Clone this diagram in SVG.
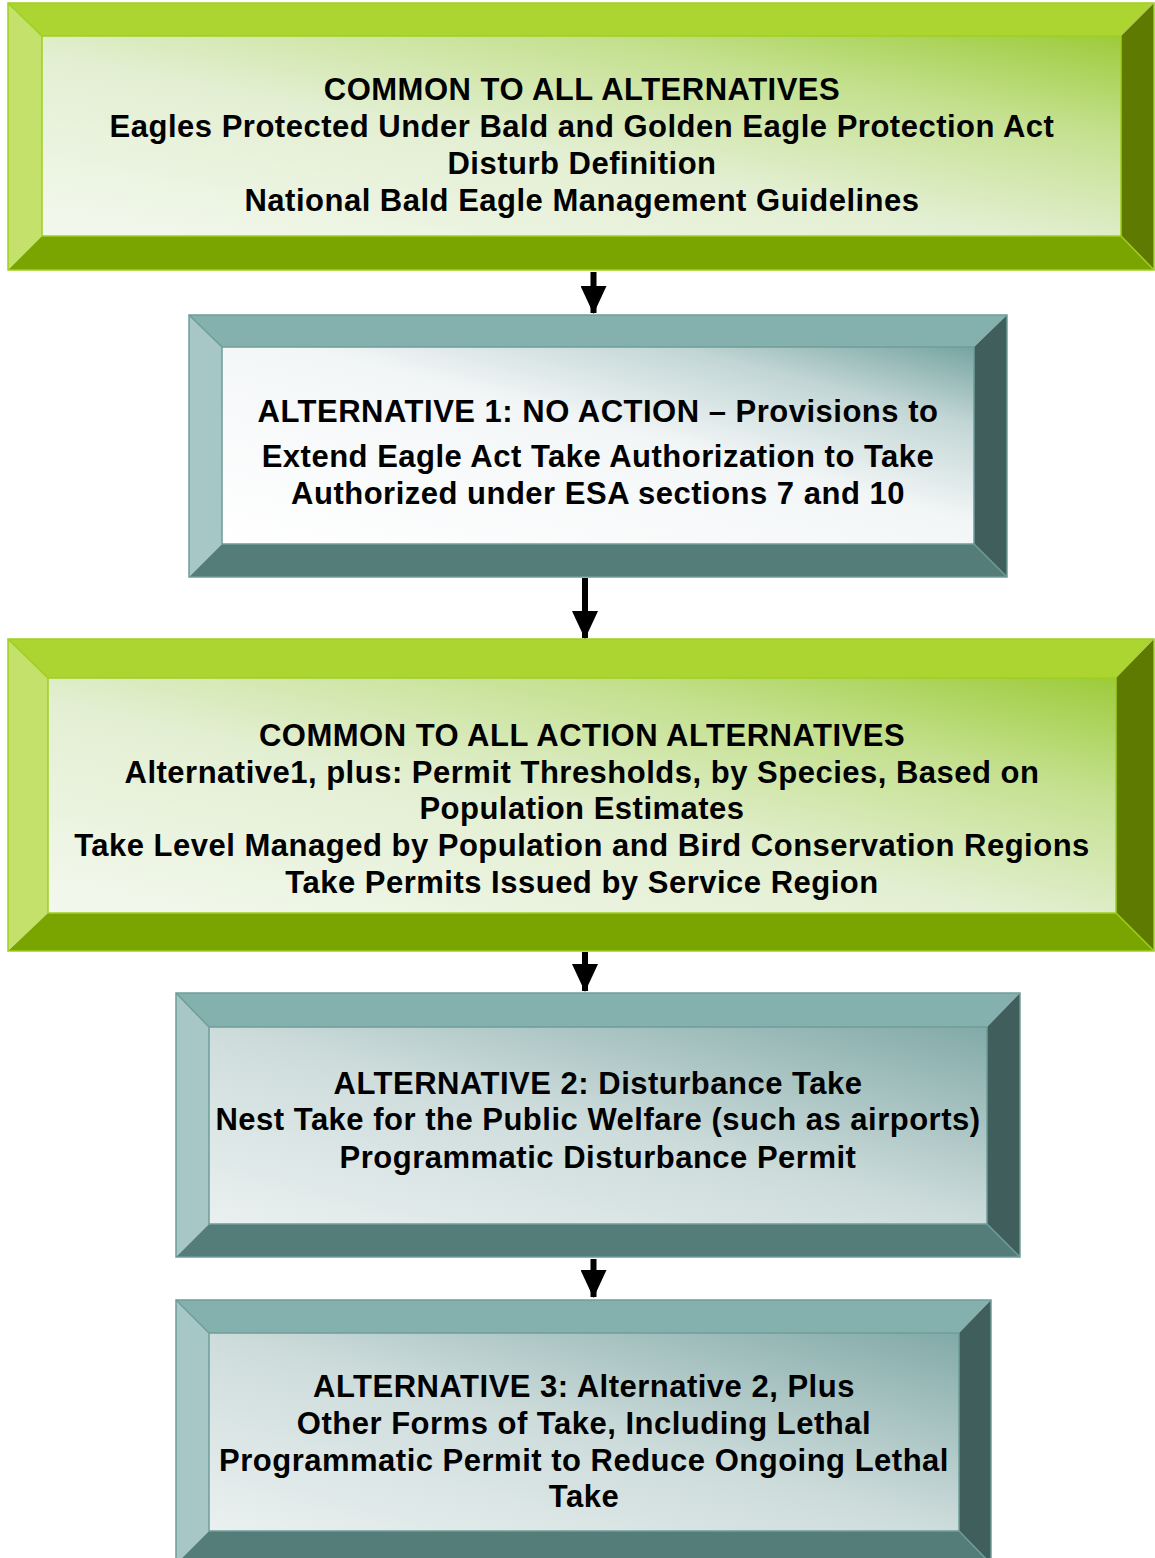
<svg xmlns="http://www.w3.org/2000/svg" width="1155" height="1558" viewBox="0 0 1155 1558">
  <defs>
    <linearGradient id="gGreen" x1="0" y1="1" x2="1" y2="0">
      <stop offset="0" stop-color="#f3f8ee"/>
      <stop offset="0.45" stop-color="#e3efd2"/>
      <stop offset="0.75" stop-color="#c4e08e"/>
      <stop offset="1" stop-color="#9dcb3a"/>
    </linearGradient>
    <linearGradient id="gTealLight" x1="0" y1="1" x2="1" y2="0">
      <stop offset="0" stop-color="#ffffff"/>
      <stop offset="0.55" stop-color="#f3f6f7"/>
      <stop offset="0.8" stop-color="#c2d6d5"/>
      <stop offset="1" stop-color="#76a4a1"/>
    </linearGradient>
    <linearGradient id="gTeal" x1="0" y1="1" x2="1" y2="0">
      <stop offset="0" stop-color="#eaf0f0"/>
      <stop offset="0.5" stop-color="#cddcdb"/>
      <stop offset="1" stop-color="#82aaa8"/>
    </linearGradient>
    <marker id="arrow" viewBox="0 0 28 26" refX="27" refY="13" markerWidth="28" markerHeight="26" markerUnits="userSpaceOnUse" orient="auto">
      <path d="M0,0 L28,13 L0,26 Z" fill="#000"/>
    </marker>
    <style>
      .txt { font-family: "Liberation Sans", Arial, sans-serif; font-weight: bold; font-size: 31px; letter-spacing: 0.5px; fill: #000; text-anchor: middle; }
      .g-top { fill: #acd531; }
      .g-left { fill: #c3e16b; }
      .g-right { fill: #5e7a00; }
      .g-bot { fill: #7aa400; }
      .g-edge { fill: none; stroke: #9fcf1e; stroke-width: 1.5; }
      .t-top { fill: #84b0ad; }
      .t-left { fill: #a7c7c6; }
      .t-right { fill: #405e5c; }
      .t-bot { fill: #547d7a; }
      .t-edge { fill: none; stroke: #6e9d9a; stroke-width: 1.5; }
      .conn { stroke: #000; stroke-width: 6; fill: none; }
    </style>
  </defs>

  <!-- Box 1: common to all alternatives -->
  <g id="common-all">
    <polygon class="g-top" points="8,3 1154,3 1121,36 42,36"/>
    <polygon class="g-left" points="8,3 42,36 42,236 8,270"/>
    <polygon class="g-right" points="1154,3 1154,270 1121,236 1121,36"/>
    <polygon class="g-bot" points="8,270 42,236 1121,236 1154,270"/>
    <rect x="42" y="36" width="1079" height="200" fill="url(#gGreen)"/>
    <rect class="g-edge" x="8" y="3" width="1146" height="267"/>
    <path class="g-edge" d="M8,3 L42,36 M1154,270 L1121,236 M42,36 H1121 V236 H42 Z"/>
    <text class="txt" x="582" y="100">COMMON TO ALL ALTERNATIVES</text>
    <text class="txt" x="582" y="137">Eagles Protected Under Bald and Golden Eagle Protection Act</text>
    <text class="txt" x="582" y="174">Disturb Definition</text>
    <text class="txt" x="582" y="211">National Bald Eagle Management Guidelines</text>
  </g>

  <!-- Box 2: alternative 1, no action -->
  <g id="alt-1">
    <polygon class="t-top" points="189,315 1007,315 974,347 222,347"/>
    <polygon class="t-left" points="189,315 222,347 222,544 189,577"/>
    <polygon class="t-right" points="1007,315 1007,577 974,544 974,347"/>
    <polygon class="t-bot" points="189,577 222,544 974,544 1007,577"/>
    <rect x="222" y="347" width="752" height="197" fill="url(#gTealLight)"/>
    <rect class="t-edge" x="189" y="315" width="818" height="262"/>
    <path class="t-edge" d="M189,315 L222,347 M1007,577 L974,544 M222,347 H974 V544 H222 Z"/>
    <text class="txt" x="598" y="422">ALTERNATIVE 1: NO ACTION – Provisions to</text>
    <text class="txt" x="598" y="467">Extend Eagle Act Take Authorization to Take</text>
    <text class="txt" x="598" y="504">Authorized under ESA sections 7 and 10</text>
  </g>

  <!-- Box 3: common to all action alternatives -->
  <g id="common-action">
    <polygon class="g-top" points="8,639 1154,639 1116,678 48,678"/>
    <polygon class="g-left" points="8,639 48,678 48,913 8,951"/>
    <polygon class="g-right" points="1154,639 1154,951 1116,913 1116,678"/>
    <polygon class="g-bot" points="8,951 48,913 1116,913 1154,951"/>
    <rect x="48" y="678" width="1068" height="235" fill="url(#gGreen)"/>
    <rect class="g-edge" x="8" y="639" width="1146" height="312"/>
    <path class="g-edge" d="M8,639 L48,678 M1154,951 L1116,913 M48,678 H1116 V913 H48 Z"/>
    <text class="txt" x="582" y="746">COMMON TO ALL ACTION ALTERNATIVES</text>
    <text class="txt" x="582" y="783">Alternative1, plus: Permit Thresholds, by Species, Based on</text>
    <text class="txt" x="582" y="819">Population Estimates</text>
    <text class="txt" x="582" y="856">Take Level Managed by Population and Bird Conservation Regions</text>
    <text class="txt" x="582" y="893">Take Permits Issued by Service Region</text>
  </g>

  <!-- Box 4: alternative 2 -->
  <g id="alt-2">
    <polygon class="t-top" points="176,993 1020,993 987,1027 209,1027"/>
    <polygon class="t-left" points="176,993 209,1027 209,1224 176,1257"/>
    <polygon class="t-right" points="1020,993 1020,1257 987,1224 987,1027"/>
    <polygon class="t-bot" points="176,1257 209,1224 987,1224 1020,1257"/>
    <rect x="209" y="1027" width="778" height="197" fill="url(#gTeal)"/>
    <rect class="t-edge" x="176" y="993" width="844" height="264"/>
    <path class="t-edge" d="M176,993 L209,1027 M1020,1257 L987,1224 M209,1027 H987 V1224 H209 Z"/>
    <text class="txt" x="598" y="1094">ALTERNATIVE 2: Disturbance Take</text>
    <text class="txt" x="598" y="1130">Nest Take for the Public Welfare (such as airports)</text>
    <text class="txt" x="598" y="1168">Programmatic Disturbance Permit</text>
  </g>

  <!-- Box 5: alternative 3 -->
  <g id="alt-3">
    <polygon class="t-top" points="176,1300 991,1300 959,1333 209,1333"/>
    <polygon class="t-left" points="176,1300 209,1333 209,1531 176,1564"/>
    <polygon class="t-right" points="991,1300 991,1564 959,1531 959,1333"/>
    <polygon class="t-bot" points="176,1564 209,1531 959,1531 991,1564"/>
    <rect x="209" y="1333" width="750" height="198" fill="url(#gTeal)"/>
    <rect class="t-edge" x="176" y="1300" width="815" height="264"/>
    <path class="t-edge" d="M176,1300 L209,1333 M991,1564 L959,1531 M209,1333 H959 V1531 H209 Z"/>
    <text class="txt" x="584" y="1397">ALTERNATIVE 3: Alternative 2, Plus</text>
    <text class="txt" x="584" y="1434">Other Forms of Take, Including Lethal</text>
    <text class="txt" x="584" y="1471">Programmatic Permit to Reduce Ongoing Lethal</text>
    <text class="txt" x="584" y="1507">Take</text>
  </g>

  <!-- Connectors -->
  <g id="connectors">
    <line class="conn" x1="593.5" y1="272" x2="593.5" y2="313" marker-end="url(#arrow)"/>
    <line class="conn" x1="585" y1="578" x2="585" y2="638" marker-end="url(#arrow)"/>
    <line class="conn" x1="585" y1="952" x2="585" y2="991" marker-end="url(#arrow)"/>
    <line class="conn" x1="593.5" y1="1259" x2="593.5" y2="1297" marker-end="url(#arrow)"/>
  </g>
</svg>
